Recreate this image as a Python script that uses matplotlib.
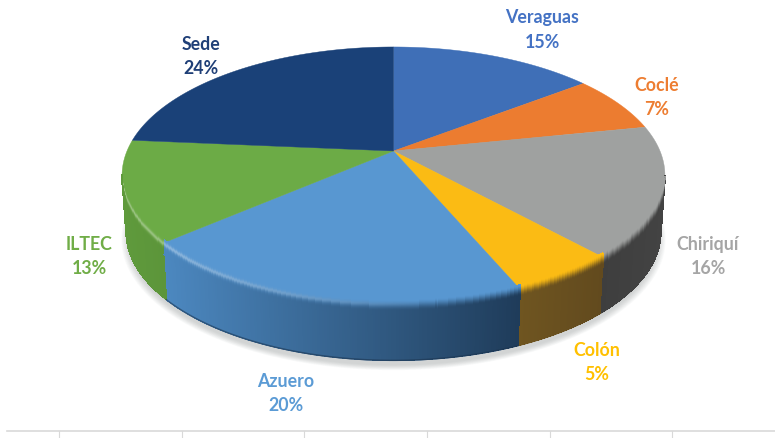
#!/usr/bin/env python3
import numpy as np
import matplotlib
matplotlib.use("Agg")
import matplotlib.pyplot as plt
from matplotlib.collections import PolyCollection

# shares, clockwise from 12 o'clock
labels = ["Veraguas", "Coclé", "Chiriquí", "Colón", "Azuero", "ILTEC", "Sede"]
shares = [14.6, 7.2, 16.4, 5.4, 20.1, 12.7, 23.6]
top_colors = ["#3f6fb7", "#ec7c30", "#9fa1a0", "#fbbb14", "#5897d1", "#6cab46", "#1a4178"]
text_colors = ["#4472c4", "#ed7d31", "#a5a5a5", "#ffc000", "#5b9bd5", "#70ad47", "#1f3f77"]
# side colour at the left and right end of each slice
side_left = ["#000000", "#000000", "#3e3e3e", "#6f5520", "#4c88c0", "#5f9a3c", "#000000"]
side_right = ["#000000", "#000000", "#434343", "#624a1e", "#1f3c5a", "#5c953a", "#000000"]
label_xy = [(542, 30), (657, 98), (708, 257), (597, 363), (286, 394), (89, 257), (201, 57)]
tick_x = [59, 182, 304, 427, 550, 672]

CX, CY = 393.5, 152.0
K, A, B = 0.19, 266.5, 123.8
DEPTH = 57.0


def project(theta, r=1.0):
    """Put a point of the tilted disc into picture coordinates."""
    x = r * np.sin(theta)
    y = r * np.cos(theta)
    w = 1 + K * y
    return CX + A * x / w, CY - B * y / w


def rgb(c):
    return np.array(matplotlib.colors.to_rgb(c))


def lower(X, Y):
    """Same rim point on the bottom of the pie."""
    return CX + (X - CX) * 0.985, Y + DEPTH


fig = plt.figure(figsize=(7.75, 4.39), dpi=100)
ax = fig.add_axes([0, 0, 1, 1])
ax.set_xlim(0, 775)
ax.set_ylim(439, 0)
ax.axis("off")

# frame line and ticks at the bottom
ax.plot([7, 775], [432, 432], color="#d9d9d9", lw=1.2)
for t in tick_x:
    ax.plot([t, t], [432, 439], color="#d9d9d9", lw=0.8)

# soft shadow under the pie
th = np.linspace(0, 2 * np.pi, 300)
X, Y = project(th)
X, Y = lower(X, Y)
for i in range(12):
    s = 1.018 - i * 0.0025
    ax.fill(CX + (X - CX) * s, 176 + (Y - 176) * s + 6, color="#8a8f8f",
            alpha=0.035, lw=0, zorder=1)

cum = np.cumsum([0] + shares) / sum(shares) * 2 * np.pi

# side wall: smooth outline first, then thin vertical strips for the gradient
for i in range(len(labels)):
    if side_left[i] == "#000000":
        continue
    t = np.linspace(cum[i], cum[i + 1], 160)
    t = t[np.cos(t) < -0.19]
    x0, y0 = project(t)
    x1, y1 = lower(x0, y0)
    lo, hi = x0.min(), x0.max()
    mid = (rgb(side_left[i]) + rgb(side_right[i])) / 2
    ax.fill(np.r_[x0, x1[::-1]], np.r_[y0, y1[::-1]], color=mid, lw=0.3, zorder=2)
    polys, cols = [], []
    for j in range(len(t) - 1):
        f = (x0[j] - lo) / (hi - lo)
        c = rgb(side_left[i]) * (1 - f) + rgb(side_right[i]) * f
        polys.append([(x0[j], y0[j]), (x0[j + 1], y0[j + 1]),
                      (x1[j + 1], y1[j + 1] - 0.8), (x1[j], y1[j] - 0.8)])
        cols.append(c)
    ax.add_collection(PolyCollection(polys, facecolors=cols, edgecolors=cols, linewidths=0.5,
                                     antialiaseds=False, zorder=2))

# dark lip along the bottom edge of the blue slice
t = np.linspace(cum[4], cum[5], 120)
x0, y0 = lower(*project(t))
ax.plot(x0, y0 - 0.5, color="#1c3550", lw=1.0, alpha=0.6, zorder=3)

# top of the pie
for i in range(len(labels)):
    t = np.linspace(cum[i], cum[i + 1], 120)
    x0, y0 = project(t)
    ax.fill(np.r_[CX, x0], np.r_[CY, y0], color=top_colors[i], lw=0.3, zorder=4)

# rounded bevel: blend top colour into side colour, highlight on the left
offsets = np.arange(-4, 10, 1.0)
for i in range(len(labels)):
    if side_left[i] == "#000000":
        continue
    t = np.linspace(cum[i], cum[i + 1], 160)
    x0, y0 = project(t)
    lo, hi = x0.min(), x0.max()
    polys, cols = [], []
    for j in range(len(t) - 1):
        fade = np.clip((-0.19 - np.cos(t[j])) / 0.15, 0, 1)
        if fade == 0:
            continue
        f = (x0[j] - lo) / (hi - lo)
        side = rgb(side_left[i]) * (1 - f) + rgb(side_right[i]) * f
        glow = np.clip((430 - x0[j]) / 260, 0, 1)
        for d in offsets:
            m = np.clip((d + 4) / 11, 0, 1)
            m = m * m * (3 - 2 * m)
            c = rgb(top_colors[i]) * (1 - m) + side * m
            c = c + glow * 0.32 * np.exp(-((d - 0.5) / 2.2) ** 2) * (1 - c)
            dd = d * fade
            polys.append([(x0[j], y0[j] + dd), (x0[j + 1], y0[j + 1] + dd),
                          (x0[j + 1], y0[j + 1] + dd + 1.3), (x0[j], y0[j] + dd + 1.3)])
            cols.append(c)
    ax.add_collection(PolyCollection(polys, facecolors=cols, edgecolors=cols, linewidths=0.4,
                                     antialiaseds=False, zorder=5))

# labels
for name, share, xy, c in zip(labels, shares, label_xy, text_colors):
    ax.text(xy[0], xy[1], f"{name}\n{round(share)}%", color=c, ha="center", va="center",
            family="Lato", weight="bold", fontsize=12.8, linespacing=1.5, zorder=6)

plt.savefig("out.png", dpi=100)
plt.close()
